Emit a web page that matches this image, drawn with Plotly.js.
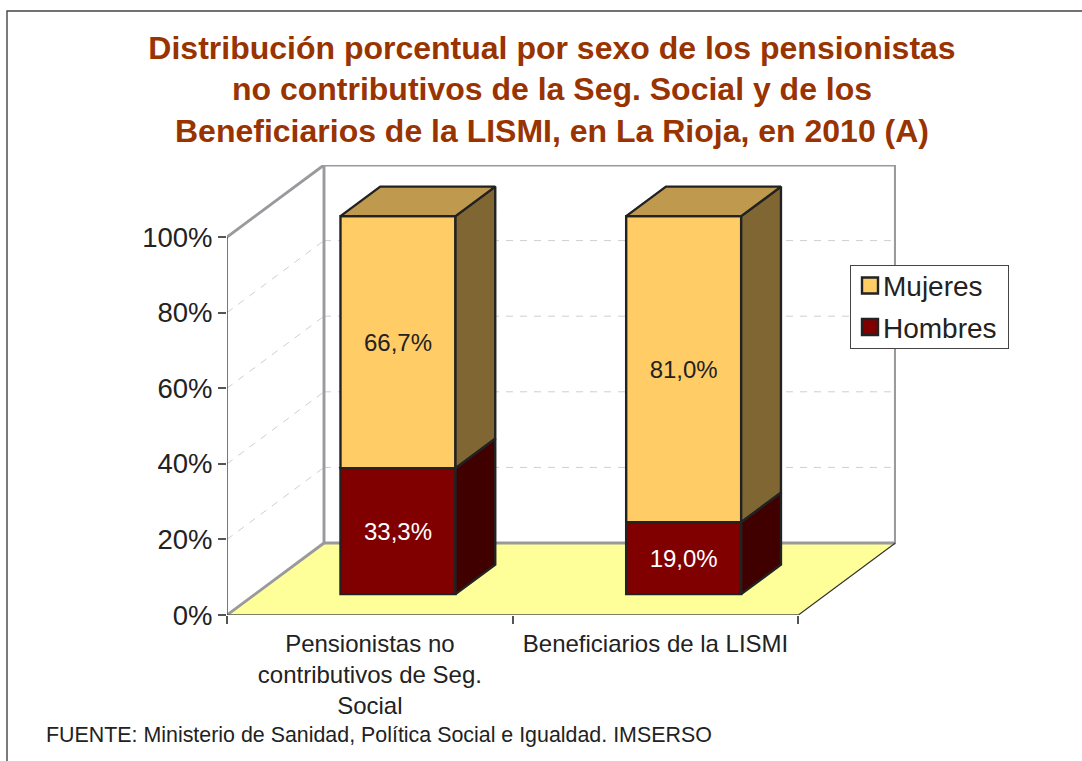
<!DOCTYPE html>
<html>
<head>
<meta charset="utf-8">
<script src="https://cdn.plot.ly/plotly-3.0.1.min.js"></script>
<style>html,body{margin:0;padding:0;background:#fff;overflow:hidden}</style>
</head>
<body>
<div id="chart" style="width:1082px;height:761px"></div>
<script>
const categories = ['Pensionistas no<br>contributivos de Seg.<br>Social', 'Beneficiarios de la LISMI'];
const hombres = [33.3, 19.0];
const mujeres = [66.7, 81.0];
const yTicks = [0, 20, 40, 60, 80, 100];

const W = 1082, H = 761;
const L = 227, R = 896, T = 165, B = 615;       // plot area in page pixels
const pxPerCat = 285.7, pxPerPct = 3.78;
const depthX = 97 / pxPerCat, depthY = 72 / pxPerPct;
const barFront = 0.29, barBack = 0.70, barWidth = 115 / pxPerCat;
const centers = categories.map((c, i) => i + 0.5);

const fmt = v => v.toFixed(1).replace('.', ',') + '%';
const X = (c, d) => c + d * depthX;
const Y = (v, d) => v + d * depthY;

function poly(points) {
  return 'M' + points.map(p => X(p[0], p[2]) + ',' + Y(p[1], p[2])).join('L') + 'Z';
}
function line(a, b, style, layer) {
  return {type: 'line', xref: 'x', yref: 'y', layer: layer || 'below',
    x0: X(a[0], a[2]), y0: Y(a[1], a[2]), x1: X(b[0], b[2]), y1: Y(b[1], b[2]), line: style};
}

const wallLine = {color: '#9a9a9e', width: 2.9};
const gridLine = {color: '#cfcfcf', width: 1, dash: '7px,7px'};
const axisLine = {color: '#555555', width: 1.6};
const xEnd = categories.length;

const shapes = [
  // page frame (top and left edges are the only ones inside the picture)
  {type: 'rect', xref: 'paper', yref: 'paper', layer: 'below',
   x0: (7 - L) / (R - L), x1: (W + 20 - L) / (R - L),
   y0: (B - (H + 20)) / (B - T), y1: (B - 11) / (B - T),
   line: {color: '#444444', width: 1.4}, fillcolor: '#ffffff'},
  // floor
  {type: 'path', xref: 'x', yref: 'y', layer: 'below',
   path: poly([[0, 0, 0], [xEnd, 0, 0], [xEnd, 0, 1], [0, 0, 1]]),
   fillcolor: '#FFFF99', line: {width: 0}},
];
// gridlines on the side wall and back wall
yTicks.slice(1, -1).forEach(v => {
  shapes.push(line([0, v, 0], [0, v, 1], gridLine));
  shapes.push(line([0, v, 1], [xEnd, v, 1], gridLine));
});
// wall outlines
shapes.push(line([0, 100, 0], [0, 100, 1], wallLine));
shapes.push(line([0, 100, 1], [xEnd, 100, 1], wallLine));
shapes.push(line([xEnd, 100, 1], [xEnd, 0, 1], wallLine));
shapes.push(line([xEnd, 0, 1], [0, 0, 1], wallLine));
shapes.push(line([0, 100, 1], [0, 0, 1], wallLine));
shapes.push(line([0, 0, 1], [0, 0, 0], wallLine));
// floor front-right edge and axis lines
shapes.push(line([xEnd, 0, 0], [xEnd, 0, 1], {color: '#333333', width: 1.2}));
shapes.push(line([0, 0, 0], [xEnd, 0, 0], axisLine));
shapes.push(line([0, 0, 0], [0, 100, 0], axisLine));

const edge = {color: '#222222', width: 2.4};

function frontBar(name, values, starts, color, textColor) {
  return {type: 'bar', name: name, x: centers.map(c => X(c, barFront)), y: values,
    base: starts.map(s => Y(s, barFront)), width: barWidth,
    marker: {color: color, line: edge},
    text: values.map(fmt), textposition: 'inside', insidetextanchor: 'middle', textangle: 0,
    insidetextfont: {family: 'Liberation Sans, Arial, sans-serif', size: 24, color: textColor},
    hoverinfo: 'skip'};
}
function sideFaces(values, starts, color) {
  const xs = [], ys = [];
  values.forEach((v, i) => {
    const xr = centers[i] + barWidth / 2, s = starts[i], e = s + v;
    [[s, barFront], [s, barBack], [e, barBack], [e, barFront], [s, barFront]].forEach(p => {
      xs.push(X(xr, p[1])); ys.push(Y(p[0], p[1]));
    });
    xs.push(null); ys.push(null);
  });
  return {type: 'scatter', mode: 'lines', x: xs, y: ys, fill: 'toself', fillcolor: color,
    line: edge, showlegend: false, hoverinfo: 'skip'};
}
function topFaces(tops, color) {
  const xs = [], ys = [];
  tops.forEach((t, i) => {
    const l = centers[i] - barWidth / 2, r = centers[i] + barWidth / 2;
    [[l, barFront], [r, barFront], [r, barBack], [l, barBack], [l, barFront]].forEach(p => {
      xs.push(X(p[0], p[1])); ys.push(Y(t, p[1]));
    });
    xs.push(null); ys.push(null);
  });
  return {type: 'scatter', mode: 'lines', x: xs, y: ys, fill: 'toself', fillcolor: color,
    line: edge, showlegend: false, hoverinfo: 'skip'};
}

const zeros = hombres.map(() => 0);
const tops = hombres.map((h, i) => h + mujeres[i]);
const data = [
  frontBar('Mujeres', mujeres, hombres, '#FFCC66', '#222222'),
  frontBar('Hombres', hombres, zeros, '#800000', '#ffffff'),
  sideFaces(mujeres, hombres, '#806633'),
  sideFaces(hombres, zeros, '#400000'),
  topFaces(tops, '#BF994D'),
];

const font = 'Liberation Sans, Arial, sans-serif';
const layout = {
  width: W, height: H,
  margin: {l: L, r: W - R, t: T, b: H - B, pad: 0},
  paper_bgcolor: '#ffffff', plot_bgcolor: 'rgba(0,0,0,0)',
  barmode: 'overlay',
  font: {family: font, color: '#222222'},
  title: {
    text: 'Distribución porcentual por sexo de los pensionistas<br>no contributivos de la Seg. Social y de los<br>Beneficiarios de la LISMI, en La Rioja, en 2010 (A)',
    font: {family: font, size: 32, color: '#993300', weight: 'bold'},
    x: 552 / W, xanchor: 'center', xref: 'container', yref: 'container', y: 1 - 58.5 / H, yanchor: 'top'
  },
  xaxis: {
    range: [0, (R - L) / pxPerCat], showgrid: false, zeroline: false, showline: false,
    tickmode: 'array', tickvals: centers, ticktext: categories, ticks: '', ticklen: 0,
    ticklabelstandoff: 12,
    tickfont: {family: font, size: 24, color: '#222222'}, tickangle: 0,
    minor: {tickmode: 'array', tickvals: categories.map((c, i) => i).concat([xEnd]),
            ticks: 'outside', ticklen: 8, tickwidth: 1.6, tickcolor: '#555555', showgrid: false},
    fixedrange: true
  },
  yaxis: {
    range: [0, (B - T) / pxPerPct], showgrid: false, zeroline: false, showline: false,
    tickmode: 'array', tickvals: yTicks, ticktext: yTicks.map(v => v + '%'),
    ticks: 'outside', ticklen: 8, tickwidth: 1.6, tickcolor: '#555555',
    tickfont: {family: font, size: 27.5, color: '#222222'}, fixedrange: true
  },
  legend: {
    x: (850 - L) / (R - L), y: (B - 265) / (B - T), xanchor: 'left', yanchor: 'top',
    bgcolor: '#ffffff', bordercolor: '#444444', borderwidth: 1.2,
    font: {family: font, size: 28, color: '#222222'}, traceorder: 'normal', itemclick: false, itemdoubleclick: false
  },
  shapes: shapes,
  annotations: [{
    text: 'FUENTE: Ministerio de Sanidad, Política Social e Igualdad. IMSERSO',
    xref: 'paper', yref: 'paper', x: (44 - L) / (R - L), y: (B - 735) / (B - T),
    xanchor: 'left', yanchor: 'middle', showarrow: false,
    font: {family: font, size: 21.4, color: '#222222'}
  }]
};
Plotly.newPlot('chart', data, layout, {displayModeBar: false}).then(gd => {
  // Legend fine-tuning: larger swatches, tighter box, as in the reference
  const legend = gd.querySelector('.legend');
  if (!legend) return;
  legend.querySelectorAll('.legendsymbols path').forEach(p => p.setAttribute('d', 'M8,8H-8V-8H8Z'));
  legend.querySelectorAll('.legendtext').forEach(t => t.setAttribute('x', +t.getAttribute('x') - 7));
  const bg = legend.querySelector('rect.bg');
  bg.setAttribute('height', 83);
  bg.setAttribute('width', 158);
  legend.querySelectorAll('.traces').forEach((t, i) => {
    t.setAttribute('transform', 'translate(0,' + (20.5 + i * 41.5) + ')');
  });
});
</script>
</body>
</html>
